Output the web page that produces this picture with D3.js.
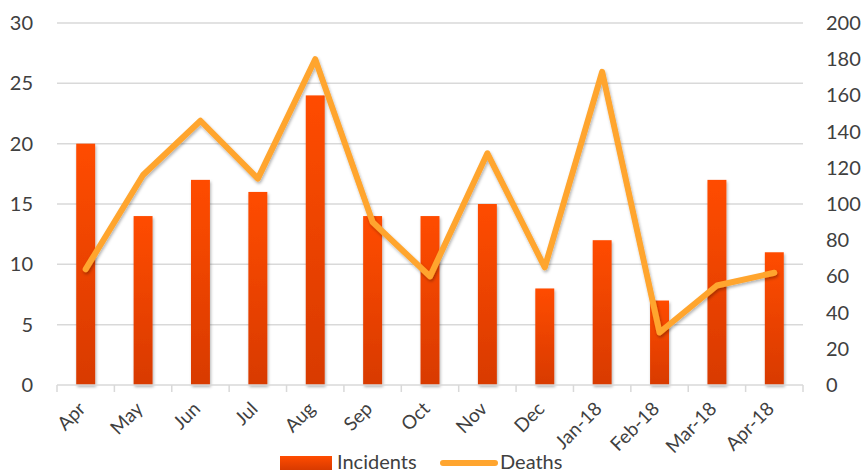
<html>
<head>
    <style>
        body { margin: 0; background: #fff; }
        text { font-family: Lato, "Open Sans", sans-serif; fill: #404040; }
    </style>
    <script src="https://cdn.jsdelivr.net/npm/d3@7"></script>
</head>
<body>
    <svg id="container" width="864" height="473"></svg>
</body>
<script>
    // data
    let months = ["Apr", "May", "Jun", "Jul", "Aug", "Sep", "Oct", "Nov", "Dec", "Jan-18", "Feb-18", "Mar-18", "Apr-18"]
    let incidents = [20, 14, 17, 16, 24, 14, 14, 15, 8, 12, 7, 17, 11]
    let deaths = [64, 116, 146, 114, 180, 90, 60, 128, 65, 173, 29, 55, 62]
    let leftTicks = [0, 5, 10, 15, 20, 25, 30]
    let rightTicks = [0, 20, 40, 60, 80, 100, 120, 140, 160, 180, 200]

    let svg = d3.select("#container")
    let plotLeft = 57, plotRight = 803, plotTop = 23, plotBottom = 385

    let x = d3.scaleBand().domain(months).range([plotLeft, plotRight])
    let yL = d3.scaleLinear().domain([0, 30]).range([plotBottom, plotTop])
    let yR = d3.scaleLinear().domain([0, 200]).range([plotBottom, plotTop])

    let defs = svg.append("defs")
    let grad = defs.append("linearGradient").attr("id", "barGrad")
        .attr("x1", 0).attr("y1", 0).attr("x2", 0).attr("y2", 1)
    grad.append("stop").attr("offset", "0%").attr("stop-color", "#ff4c00")
    grad.append("stop").attr("offset", "100%").attr("stop-color", "#d83a00")
    let shadow = defs.append("filter").attr("id", "shadow")
        .attr("x", "-20%").attr("y", "-20%").attr("width", "140%").attr("height", "140%")
    shadow.append("feDropShadow").attr("dx", 1).attr("dy", 2).attr("stdDeviation", 1.5)
        .attr("flood-color", "#000").attr("flood-opacity", 0.3)

    // gridlines
    svg.append("g").selectAll("line")
        .data(leftTicks.slice(1))
        .enter().append("line")
        .attr("x1", plotLeft).attr("x2", plotRight)
        .attr("y1", d => yL(d)).attr("y2", d => yL(d))
        .attr("stroke", "#d9d9d9").attr("stroke-width", 1.5)

    // left axis labels
    svg.append("g").selectAll("text")
        .data(leftTicks)
        .enter().append("text")
        .attr("x", 33).attr("y", d => yL(d) + 7)
        .attr("text-anchor", "end")
        .attr("font-size", 20)
        .text(d => d)

    // right axis labels
    svg.append("g").selectAll("text")
        .data(rightTicks)
        .enter().append("text")
        .attr("x", 826).attr("y", d => yR(d) + 7)
        .attr("font-size", 20)
        .text(d => d)

    // bars
    let bw = x.bandwidth() * 0.33
    svg.append("g").selectAll("rect")
        .data(incidents)
        .enter().append("rect")
        .attr("x", (d, i) => x(months[i]) + x.bandwidth() / 2 - bw / 2)
        .attr("y", d => yL(d))
        .attr("width", bw)
        .attr("height", d => plotBottom - yL(d))
        .attr("fill", "url(#barGrad)")
        .attr("filter", "url(#shadow)")

    // x axis
    svg.append("line")
        .attr("x1", plotLeft).attr("x2", plotRight).attr("y1", plotBottom).attr("y2", plotBottom)
        .attr("stroke", "#d9d9d9").attr("stroke-width", 1.5)
    let bounds = months.map(m => x(m)).concat([plotRight])
    svg.append("g").selectAll("line")
        .data(bounds)
        .enter().append("line")
        .attr("x1", d => d).attr("x2", d => d)
        .attr("y1", plotBottom).attr("y2", plotBottom + 7)
        .attr("stroke", "#d9d9d9").attr("stroke-width", 1.5)

    svg.append("g").selectAll("text")
        .data(months)
        .enter().append("text")
        .attr("transform", d => "translate(" + (x(d) + x.bandwidth() / 2 + 1) + "," + (plotBottom + 25) + ") rotate(-45)")
        .attr("text-anchor", "end")
        .attr("font-size", 19)
        .text(d => d)

    // line
    let line = d3.line()
        .x((d, i) => x(months[i]) + x.bandwidth() / 2)
        .y(d => yR(d))
    svg.append("path")
        .datum(deaths)
        .attr("d", line)
        .attr("fill", "none")
        .attr("stroke", "#ffa52f")
        .attr("stroke-width", 6)
        .attr("stroke-linecap", "round")
        .attr("stroke-linejoin", "round")
        .attr("filter", "url(#shadow)")

    // legend
    let lg = svg.append("g")
    lg.append("rect").attr("x", 280).attr("y", 456).attr("width", 52).attr("height", 14)
        .attr("fill", "url(#barGrad)")
    lg.append("text").attr("x", 337).attr("y", 469).attr("font-size", 20).text("Incidents")
    lg.append("line").attr("x1", 443).attr("x2", 495).attr("y1", 463).attr("y2", 463)
        .attr("stroke", "#ffa52f").attr("stroke-width", 6).attr("stroke-linecap", "round")
    lg.append("text").attr("x", 500).attr("y", 469).attr("font-size", 20).text("Deaths")
</script>
</html>
